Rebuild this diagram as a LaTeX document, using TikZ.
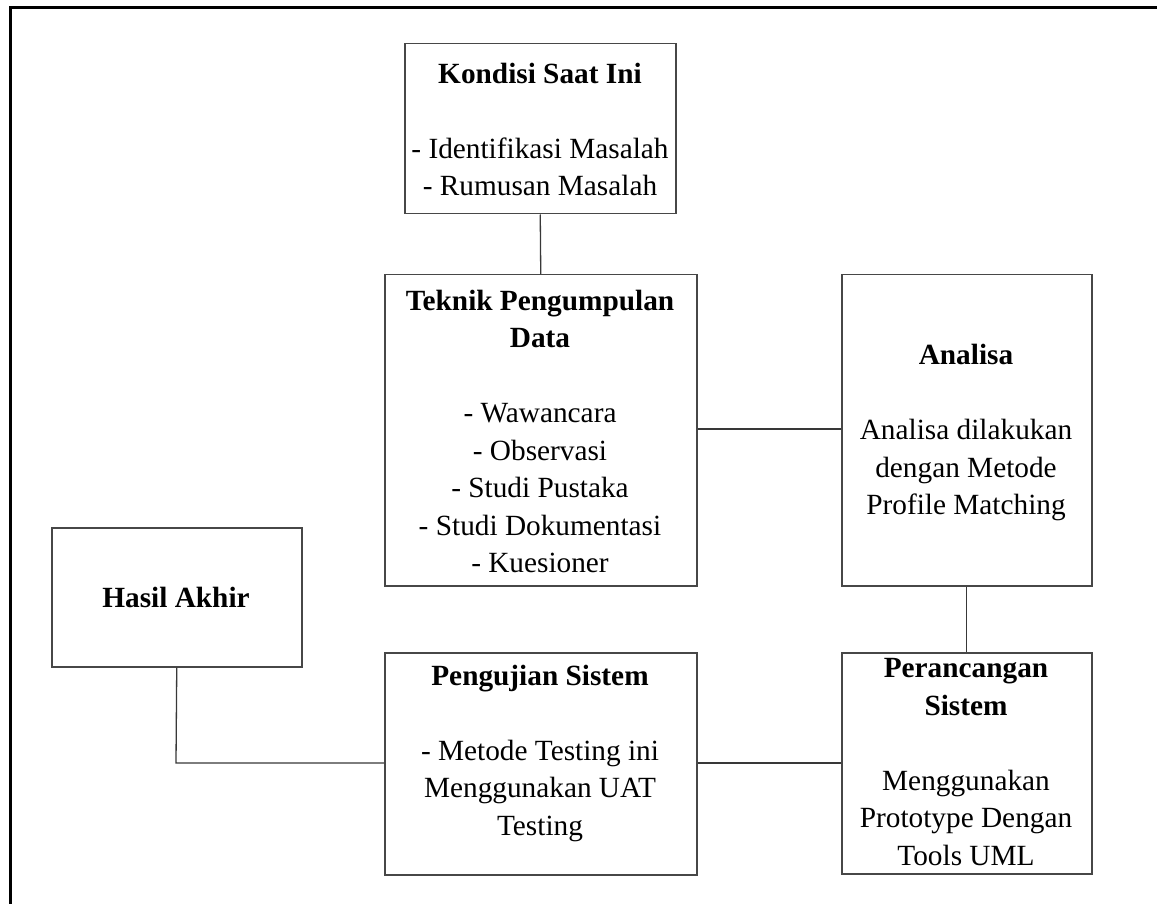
\documentclass[tikz,border=0pt]{standalone}
\usepackage{fontspec}
\setmainfont{Liberation Serif}
\begin{document}
\begin{tikzpicture}[x=1pt,y=-1pt,
  box/.style={draw=black!72, line width=1.5pt, inner sep=0pt, anchor=north west},
  txt/.style={align=center, font=\fontsize{29.3}{37.5}\selectfont, inner sep=0pt},
  link/.style={draw=black!78, line width=1.3pt}]
\useasboundingbox (0,0) rectangle (1157,904);
\fill[white] (0,0) rectangle (1157,904);
% outer frame (top and left edges visible)
\draw[line width=3pt, black] (10,904) -- (10,7.5) -- (1157,7.5);

% boxes
\node[box, minimum width=271pt, minimum height=170pt] (kondisi) at (404,43) {};
\node[box, minimum width=312pt, minimum height=311pt] (teknik) at (384,274) {};
\node[box, minimum width=250pt, minimum height=311pt] (analisa) at (841,274) {};
\node[box, minimum width=250pt, minimum height=139pt] (hasil) at (51,527) {};
\node[box, minimum width=312pt, minimum height=222pt] (pengujian) at (384,652) {};
\node[box, minimum width=250pt, minimum height=221pt] (perancangan) at (841,652) {};

% texts
\node[txt] (kondisiT) at (540,132) {\strut\textbf{Kondisi Saat Ini}\\ \mbox{}\\ - Identifikasi Masalah\\ - Rumusan Masalah\strut};
\node[txt] (teknikT) at (540,434) {\strut\textbf{Teknik Pengumpulan}\\ \textbf{Data}\\ \mbox{}\\ - Wawancara\\ - Observasi\\ - Studi Pustaka\\ - Studi Dokumentasi\\ - Kuesioner\strut};
\node[txt] (analisaT) at (966,432) {\strut\textbf{Analisa}\\ \mbox{}\\ Analisa dilakukan\\ dengan Metode\\ Profile Matching\strut};
\node[txt] (hasilT) at (176,599.5) {\strut\textbf{Hasil Akhir}};
\node[txt] (pengujianT) at (540,752.5) {\strut\textbf{Pengujian Sistem}\\ \mbox{}\\ - Metode Testing ini\\ Menggunakan UAT\\ Testing\strut};
\node[txt] (perancanganT) at (966,764) {\strut\textbf{Perancangan}\\ \textbf{Sistem}\\ \mbox{}\\ Menggunakan\\ Prototype Dengan\\ Tools UML\strut};

% connectors
\coordinate (bend) at (176,763);
\draw[link] (kondisi.south) -- (teknik.north);
\draw[link] (teknik.east |- 0,429) -- (analisa.west |- 0,429);
\draw[link] (analisa.south) -- (perancangan.north);
\draw[link] (pengujian.east |- 0,763) -- (perancangan.west |- 0,763);
\draw[link] (hasil.south) -- (bend) -- (pengujian.west |- bend);
\end{tikzpicture}
\end{document}
